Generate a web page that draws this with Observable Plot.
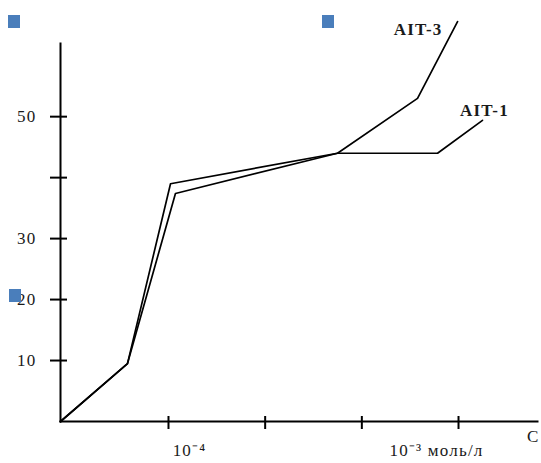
<!DOCTYPE html>
<html>
<head>
<meta charset="utf-8">
<script src="https://cdn.jsdelivr.net/npm/d3@7"></script>
<script src="https://cdn.jsdelivr.net/npm/@observablehq/plot@0.6"></script>
<style>
  body { margin: 0; background: #fff; }
  #chart { position: relative; width: 541px; height: 463px; overflow: hidden; }
  #chart svg { position: absolute; left: 0; top: 0; }
  .marker { position: absolute; width: 12px; height: 13px; background: #4a7ebb; }
</style>
</head>
<body>
<div id="chart"></div>
<script>
// Concentration axis: tick positions (one step per tick) and their labels
const xTicks = [1, 2, 3, 4];
const xTickLabels = ["10⁻⁴", "", "", "10⁻³ моль/л"];
const xAxisName = "C";

// Vertical axis ticks and labels (40 is left unlabeled)
const yTicks = [10, 20, 30, 40, 50];
const yTickLabels = ["10", "20", "30", "", "50"];

// Curves
const seriesNames = ["AIT-1", "AIT-3"];
const ait1X = [-0.117, 0.576, 1.021, 2.748, 3.783, 4.248];
const ait1Y = [0, 9.5, 39.0, 44.0, 44.0, 49.4];
const ait3X = [-0.117, 0.576, 1.072, 2.748, 3.576, 3.990];
const ait3Y = [0, 9.5, 37.4, 44.0, 53.0, 65.6];

const rows = [
  ...ait1X.map((x, i) => ({ series: seriesNames[0], x, y: ait1Y[i] })),
  ...ait3X.map((x, i) => ({ series: seriesNames[1], x, y: ait3Y[i] }))
];
const lastOf = name => rows.filter(d => d.series === name).at(-1);

const ink = "#1a1a1a";
const serif = "'Liberation Serif', 'Times New Roman', serif";

const chart = Plot.plot({
  width: 541,
  height: 463,
  marginLeft: 60,
  marginRight: 4,
  marginTop: 43,
  marginBottom: 42,
  style: { fontFamily: serif, fontSize: "17px", letterSpacing: "1.2px", color: ink, background: "transparent" },
  x: { domain: [-0.117, 4.817], label: null },
  y: { domain: [0, 62], label: null },
  marks: [
    // axis lines
    Plot.frame({ anchor: "left", stroke: "#000", strokeWidth: 2 }),
    Plot.frame({ anchor: "bottom", stroke: "#000", strokeWidth: 2 }),
    // y ticks crossing the axis, with labels on the left
    Plot.axisY(yTicks, {
      tickSize: 10, tickPadding: 14, strokeWidth: 2, stroke: "#000",
      tickFormat: d => yTickLabels[yTicks.indexOf(d)]
    }),
    Plot.axisY(yTicks, { tickSize: 7, dx: 7, strokeWidth: 2, stroke: "#000", tickFormat: () => "" }),
    // x ticks crossing the axis
    Plot.axisX(xTicks, { tickSize: 8, strokeWidth: 2, stroke: "#000", tickFormat: () => "" }),
    Plot.axisX(xTicks, { tickSize: 5, dy: -5, strokeWidth: 2, stroke: "#000", tickFormat: () => "" }),
    // x tick labels, set off to the side of their ticks
    Plot.axisX([xTicks[0]], { tickSize: 0, tickPadding: 22, dx: 21, tickFormat: () => xTickLabels[0] }),
    Plot.axisX([xTicks[3]], { tickSize: 0, tickPadding: 22, dx: -22, tickFormat: () => xTickLabels[3] }),
    Plot.text([xAxisName], { frameAnchor: "bottom-right", textAnchor: "end", lineAnchor: "top", dy: 8, dx: 2, fill: ink }),
    // curves
    Plot.line(rows, { x: "x", y: "y", z: "series", stroke: "#000", strokeWidth: 1.7 }),
    // curve labels
    Plot.text([lastOf("AIT-3")], { x: "x", y: "y", text: "series", textAnchor: "end", dx: -15, dy: 8, fill: ink, fontWeight: "bold", fontSize: 17 }),
    Plot.text([lastOf("AIT-1")], { x: "x", y: "y", text: "series", textAnchor: "middle", dx: 2, dy: -10, fill: ink, fontWeight: "bold", fontSize: 17 })
  ]
});

const root = document.getElementById("chart");
root.appendChild(chart);

// small square markers
[[8, 15], [322, 15], [9, 289]].forEach(([left, top]) => {
  const m = document.createElement("div");
  m.className = "marker";
  m.style.left = left + "px";
  m.style.top = top + "px";
  root.appendChild(m);
});
</script>
</body>
</html>
